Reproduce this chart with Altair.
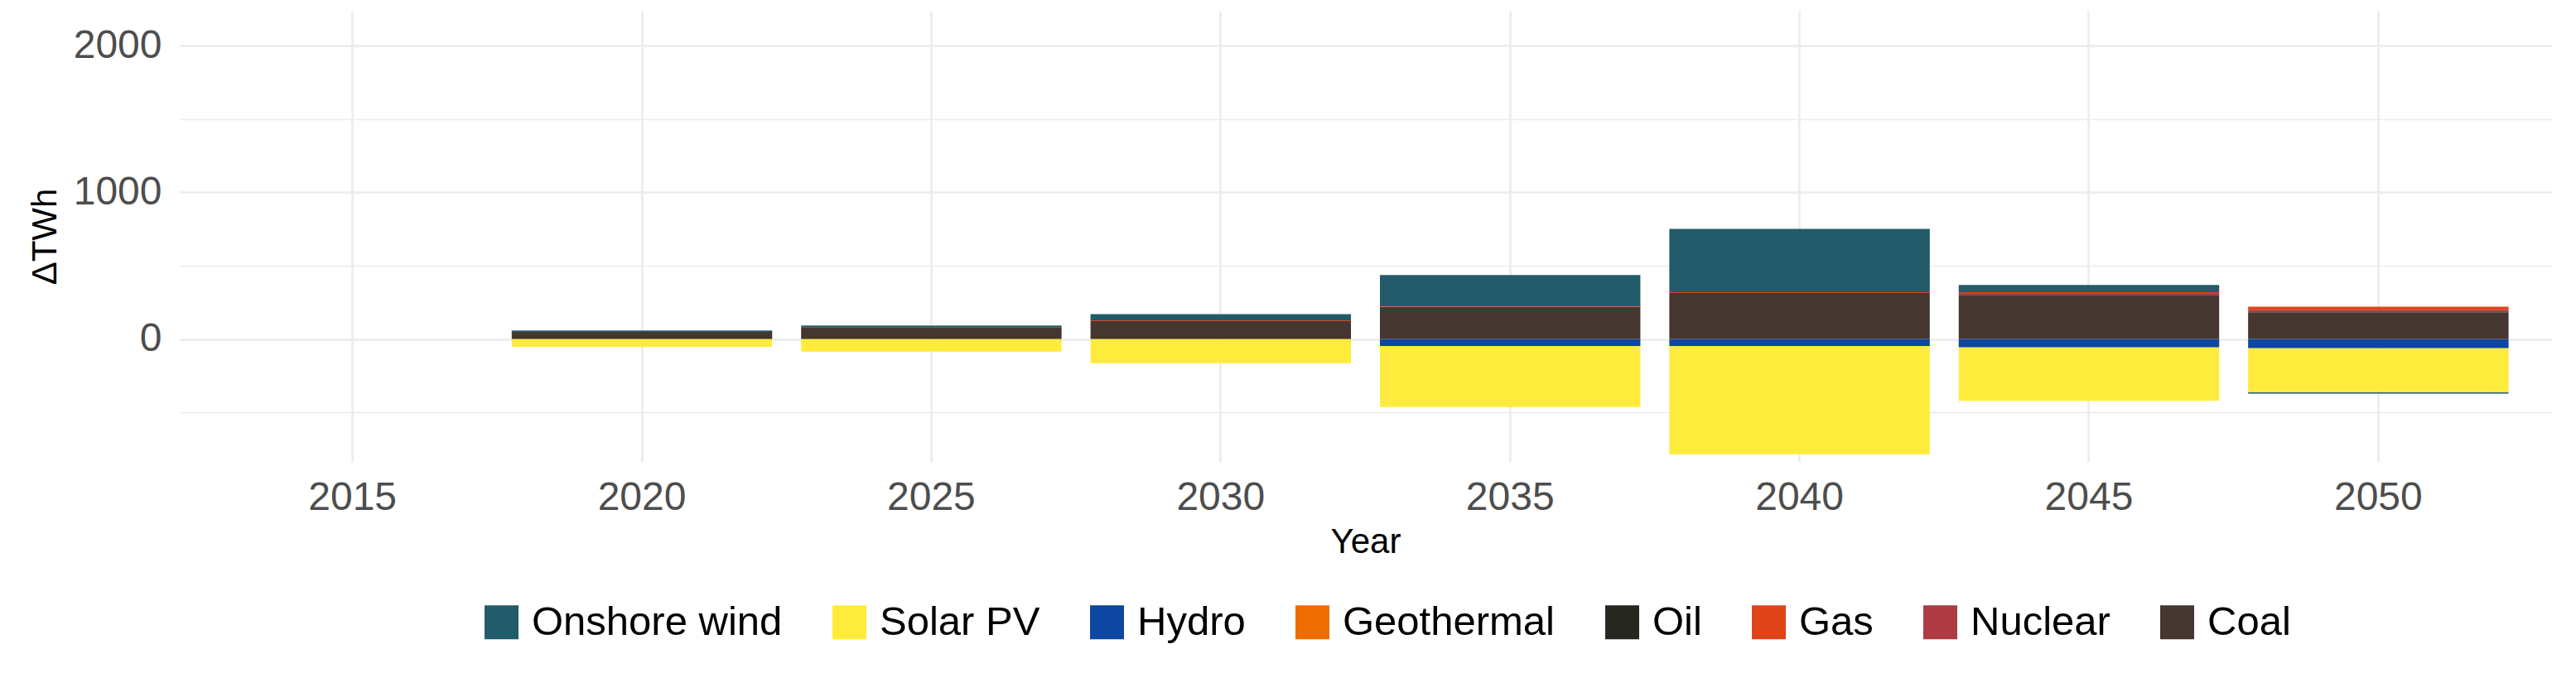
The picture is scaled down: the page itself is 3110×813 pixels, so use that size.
import altair as alt
import pandas as pd

# Categories
years = ["2015", "2020", "2025", "2030", "2035", "2040", "2045", "2050"]
sources = ["Onshore wind", "Solar PV", "Hydro", "Geothermal", "Oil", "Gas", "Nuclear", "Coal"]
colors = ["#225B69", "#FFEB3B", "#0D47A1", "#EF6C00", "#272722", "#E2441A", "#AE3A42", "#45362F"]

# Series values (ΔTWh), one per year above
onshore_wind = [0, 9, 11, 43, 214, 432, 49, -10]
solar_pv = [0, -53, -86, -165, -417, -739, -365, -300]
hydro = [0, 0, 0, 0, -47, -47, -56, -62]
geothermal = [0, 0, 0, 0, 0, 0, 0, 0]
oil = [0, 0, 0, 0, 0, 0, 0, 0]
gas = [0, 0, 0, 5, 4, 6, 6, 20]
nuclear = [0, 0, 0, 0, 0, 0, 13, 18]
coal = [0, 49, 81, 122, 218, 314, 301, 182]

# Tick values
y_ticks = [-500, 0, 500, 1000, 1500, 2000]

series = [onshore_wind, solar_pv, hydro, geothermal, oil, gas, nuclear, coal]
rows = []
for i, (name, vals) in enumerate(zip(sources, series)):
    for yr, v in zip(years, vals):
        if v != 0:
            rows.append({"Year": yr, "Source": name, "value": v, "rank": len(sources) - 1 - i})
df = pd.DataFrame(rows)

FONT = "Liberation Sans"

chart = alt.Chart(df).mark_bar().encode(
    x=alt.X(
        "Year:N",
        scale=alt.Scale(domain=years, paddingInner=0.1, paddingOuter=0.15),
        axis=alt.Axis(
            title="Year", labelAngle=0, grid=True, bandPosition=0.5,
            gridColor="#ebebeb", gridWidth=2.5,
            ticks=False, tickSize=0, domain=False,
            labelFontSize=48, labelColor="#4d4d4d", labelPadding=57,
            labelBaseline="alphabetic",
            titleFontSize=42, titleColor="black", titleFontWeight="normal",
            titleX=1432.5, titleY=109, titleBaseline="alphabetic", titleAlign="center",
        ),
    ),
    y=alt.Y(
        "value:Q", stack="zero",
        scale=alt.Scale(domain=[-838, 2239], nice=False, zero=False),
        axis=alt.Axis(
            title="ΔTWh", values=y_ticks, format="d",
            labelExpr="datum.value % 1000 === 0 ? datum.label : ''",
            grid=True, gridColor="#ebebeb",
            gridWidth=alt.condition("datum.value % 1000 === 0", alt.value(2.5), alt.value(1.3)),
            ticks=False, tickSize=0, domain=False,
            labelFontSize=48, labelColor="#4d4d4d", labelPadding=21, labelBaseline="middle",
            titleFontSize=42, titleColor="black", titleFontWeight="normal",
            titleAngle=270, titleX=-149, titleY=272.5, titleBaseline="alphabetic", titleAlign="center",
        ),
    ),
    color=alt.Color(
        "Source:N",
        scale=alt.Scale(domain=sources, range=colors),
        legend=alt.Legend(
            title=None, orient="none", legendX=365, legendY=714,
            direction="horizontal", columns=8,
            symbolType="square", symbolSize=1681, symbolStrokeWidth=0, symbolOpacity=1,
            labelFontSize=49, labelColor="black", labelOffset=12, labelLimit=1000,
            columnPadding=56, padding=0,
        ),
    ),
    order=alt.Order("rank:Q", sort="ascending"),
).properties(
    width=2865, height=545,
    padding={"left": 208, "top": 5, "right": 20, "bottom": 230},
    autosize=alt.AutoSizeParams(type="none"),
).configure(font=FONT).configure_view(stroke=None)

chart.save("out.html", embed_options={"renderer": "svg", "actions": False})
